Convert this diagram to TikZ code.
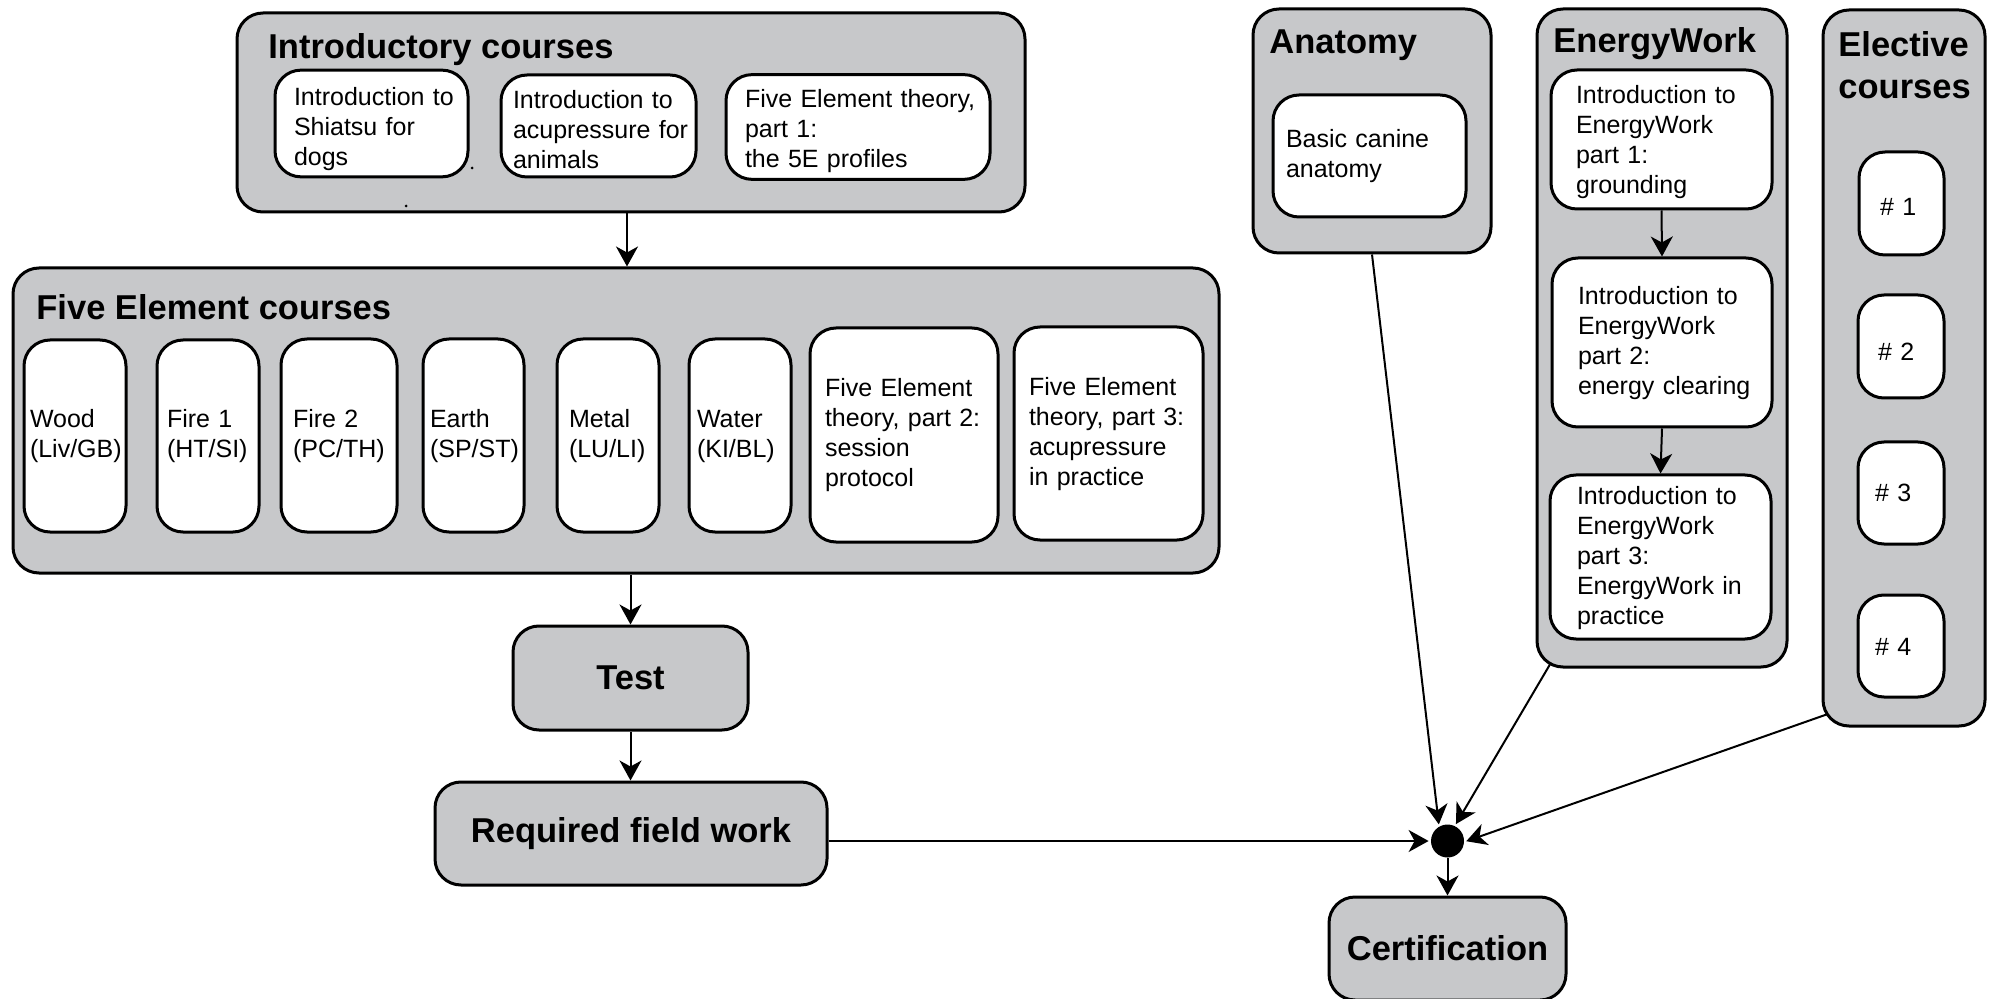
\documentclass[tikz,border=0pt]{standalone}
\usepackage{fontspec}
\setmainfont{Liberation Sans}
\usetikzlibrary{arrows.meta}
\definecolor{boxgray}{RGB}{199,200,202}
\hyphenpenalty=10000
\exhyphenpenalty=10000
% optional first argument: downward shift of the text, in px
\newcommand\mkbox[8][0]{%
  \pgfmathsetmacro\myW{(#5-#3)*0.5}%
  \pgfmathsetmacro\myH{(#6-#4)*0.5}%
  \pgfmathsetmacro\myT{(#5-#3-2*#7)*0.5}%
  \pgfmathsetmacro\myP{#7*0.5}%
  \pgfmathsetmacro\myR{9.1+#1}%
  \node[innerbox, minimum width=\myW pt, minimum height=\myH pt, text width=\myT pt, inner xsep=\myP pt] (#2) at ({(#3+#5)/2},{(#4+#6)/2}) {\rule{0pt}{\myR pt}#8};%
}
\newcommand\mkobox[5]{%
  \pgfmathsetmacro\myW{(#4-#2)*0.5}%
  \pgfmathsetmacro\myH{(#5-#3)*0.5}%
  \node[outerbox, minimum width=\myW pt, minimum height=\myH pt] (#1) at ({(#2+#4)/2},{(#3+#5)/2}) {};%
}
\newcommand\mkcbox[6]{%
  \pgfmathsetmacro\myW{(#4-#2)*0.5}%
  \pgfmathsetmacro\myH{(#5-#3)*0.5}%
  \node[outerbox, font=\bfseries\fontsize{17.25pt}{20pt}\selectfont, minimum width=\myW pt, minimum height=\myH pt] (#1) at ({(#2+#4)/2},{(#3+#5)/2}) {#6};%
}
\begin{document}
\begin{tikzpicture}[x=0.5pt,y=-0.5pt,
  outerbox/.style={draw=black, line width=1.5pt, fill=boxgray, rounded corners=13pt, inner sep=0pt},
  innerbox/.style={draw=black, line width=1.5pt, fill=white, rounded corners=13pt, align=left,
    font=\fontsize{12.5pt}{15pt}\selectfont},
  titletext/.style={font=\bfseries\fontsize{17.25pt}{19.5pt}\selectfont, inner sep=0pt, anchor=base west},
  conn/.style={line width=1pt, -{Stealth[length=10pt,width=11pt,inset=3pt]}}]
\useasboundingbox (0,0) rectangle (1995,999);

% Introductory courses
\mkobox{intro}{237}{13}{1025}{212}
\node[titletext] (introtitle) at (268,59) {Introductory courses};
\mkbox[5]{shiatsu}{275}{73}{468}{174}{19}{Introduction~to\\Shiatsu~for\\dogs}
\mkbox[4]{acup}{501}{75}{696}{177}{12}{Introduction~to\\acupressure~for\\animals}
\mkbox[4]{fea}{726}{75}{990}{179}{19}{Five~Element~theory,\\part~1:\\the~5E~profiles}
\fill (472,168) circle (1.5);
\fill (406,206) circle (1.5);

% Five Element courses
\mkobox{fec}{13}{268}{1219}{573}
\node[titletext] (fectitle) at (36,320) {Five Element courses};
\mkbox{wood}{24}{340}{126}{532}{6}{Wood\\(Liv/GB)}
\mkbox{fireA}{157}{340}{259}{532}{10}{Fire~1\\(HT/SI)}
\mkbox{fireB}{281}{339}{397}{532}{12}{Fire~2\\(PC/TH)}
\mkbox{earth}{423}{339}{524}{532}{7}{Earth\\(SP/ST)}
\mkbox{metal}{557}{339}{659}{532}{12}{Metal\\(LU/LI)}
\mkbox{water}{689}{339}{791}{532}{8}{Water\\(KI/BL)}
\mkbox{feb}{810}{328}{998}{542}{15}{Five~Element\\theory,~part~2:\\session\\protocol}
\mkbox{fecc}{1014}{327}{1203}{540}{15}{Five~Element\\theory,~part~3:\\acupressure\\in~practice}

% Anatomy
\mkobox{anat}{1253}{9}{1491}{253}
\node[titletext] (anattitle) at (1269,54) {Anatomy};
\mkbox{basic}{1273}{95}{1466}{217}{13}{Basic~canine\\anatomy}

% EnergyWork
\mkobox{ew}{1537}{9}{1787}{667}
\node[titletext] (ewtitle) at (1553,53) {EnergyWork};
\mkbox[3]{ewa}{1551}{70}{1772}{209}{25}{Introduction~to\\EnergyWork\\part~1:\\grounding}
\mkbox{ewb}{1552}{258}{1772}{427}{26}{Introduction~to\\EnergyWork\\part~2:\\energy~clearing}
\mkbox[1]{ewc}{1550}{475}{1771}{639}{27}{Introduction~to\\EnergyWork\\part~3:\\EnergyWork~in\\practice}

% Elective courses
\mkobox{elec}{1823}{10}{1985}{726}
\node[font=\bfseries\fontsize{17.25pt}{21pt}\selectfont, inner sep=0pt, anchor=north west, align=left] (electitle) at (1838,31) {Elective\\courses};
\mkbox[3]{ea}{1859}{152}{1944}{255}{21}{\#~1}
\mkbox[5]{eb}{1858}{295}{1944}{398}{20}{\#~2}
\mkbox{ec}{1858}{442}{1944}{544}{17}{\#~3}
\mkbox{ed}{1858}{595}{1944}{697}{17}{\#~4}

% Bottom flow
\mkcbox{test}{513}{626}{748}{730}{Test}
\mkcbox{rfw}{435}{782}{827}{885}{Required field work}
\mkcbox{cert}{1329}{897}{1566}{1000}{Certification}
\node[circle, fill=black, minimum size=16.5pt, inner sep=0pt] (dot) at (1447.5,841) {};

% Connectors
\draw[conn] ([xshift=-2pt]intro.south) -- ([xshift=-2pt]intro.south |- fec.north);
\draw[conn] (test.north |- fec.south) -- (test.north);
\draw[conn] (test.south) -- (test.south |- rfw.north);
\draw[conn] (ewa.south) -- (ewb.north);
\draw[conn] (ewb.south) -- (ewc.north);
\draw[conn, shorten >=1pt] (rfw.east |- dot.west) -- (dot.west);
\draw[conn, shorten >=1pt] (anat.south) -- (dot.120);
\draw[conn, shorten >=1pt] ([shift={(15,-5)}]ew.south west) -- (dot.64);
\draw[conn, shorten >=1pt] ([shift={(5,-13)}]elec.south west) -- (dot.-3);
\draw[conn] (dot.south) -- (cert.north);
\end{tikzpicture}
\end{document}
